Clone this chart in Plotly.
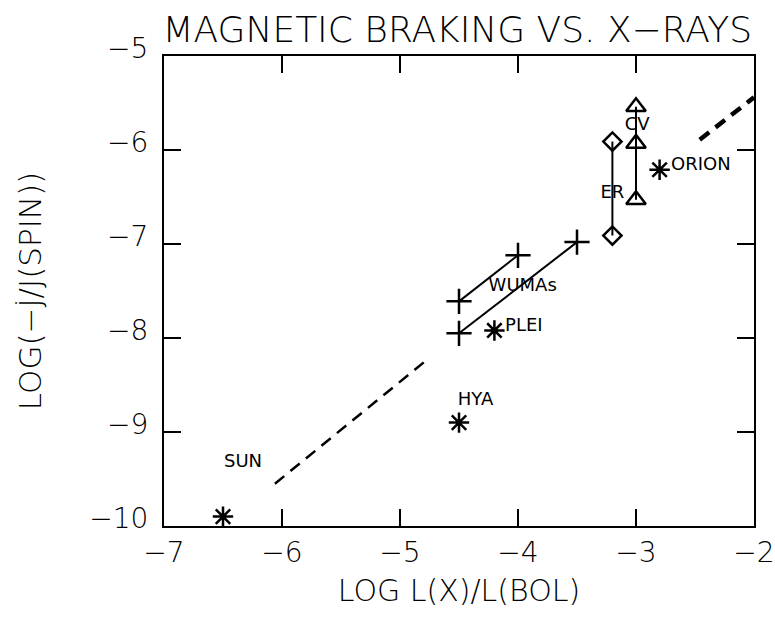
import plotly.graph_objects as go

# ---- data ----
star_names = ["SUN", "HYA", "PLEI", "ORION"]
star_x = [-6.5, -4.5, -4.2, -2.8]
star_y = [-9.9, -8.9, -7.92, -6.21]

wuma1_x = [-4.5, -4.0]
wuma1_y = [-7.61, -7.12]
wuma2_x = [-4.5, -3.5]
wuma2_y = [-7.95, -6.98]

er_x = [-3.2, -3.2]
er_y = [-5.91, -6.91]

cv_x = [-3.0, -3.0, -3.0]
cv_y = [-5.54, -5.93, -6.53]

trend1_x = [-6.06, -4.77]
trend1_y = [-9.55, -8.23]
trend2_x = [-2.46, -2.0]
trend2_y = [-5.89, -5.44]

label_text = ["SUN", "HYA", "PLEI", "WUMAs", "ER", "CV", "ORION"]
label_x = [-6.33, -4.36, -3.95, -3.96, -3.2, -2.99, -2.45]
label_y = [-9.32, -8.66, -7.88, -7.45, -6.46, -5.74, -6.16]

x_ticks = [-7, -6, -5, -4, -3, -2]
y_ticks = [-5, -6, -7, -8, -9, -10]

FONT = "DejaVu Sans"
fig = go.Figure()

dash = "12px,8px"
fig.add_trace(go.Scatter(x=trend1_x, y=trend1_y, mode="lines",
                         line=dict(color="black", width=2.5, dash=dash)))
fig.add_trace(go.Scatter(x=trend2_x, y=trend2_y, mode="lines",
                         line=dict(color="black", width=4.5, dash=dash)))

for xs, ys in [(wuma1_x, wuma1_y), (wuma2_x, wuma2_y)]:
    fig.add_trace(go.Scatter(x=xs, y=ys, mode="lines+markers",
                             line=dict(color="black", width=2),
                             marker=dict(symbol="cross-thin-open", size=18, color="black",
                                         line=dict(color="black", width=2.5))))

fig.add_trace(go.Scatter(x=er_x, y=er_y, mode="lines+markers",
                         line=dict(color="black", width=2),
                         marker=dict(symbol="diamond-open", size=14, color="black",
                                     line=dict(color="black", width=2.5))))
fig.add_trace(go.Scatter(x=cv_x, y=cv_y, mode="lines+markers",
                         line=dict(color="black", width=2),
                         marker=dict(symbol="triangle-up-open", size=17, color="black",
                                     line=dict(color="black", width=2.5))))

fig.add_trace(go.Scatter(x=star_x, y=star_y, mode="markers",
                         marker=dict(symbol="asterisk-open", size=17, color="black",
                                     line=dict(color="black", width=2.5))))

fig.add_trace(go.Scatter(x=label_x, y=label_y, mode="text", text=label_text,
                         textfont=dict(family=FONT, size=18, color="black"),
                         textposition="middle center"))

axis_common = dict(showline=True, linecolor="black", linewidth=2, mirror="ticks",
                   ticks="inside", ticklen=17, tickwidth=2, tickcolor="black",
                   showgrid=False, zeroline=False, automargin=False,
                   tickfont=dict(family=FONT, size=28, color="black", weight=300))

fig.update_xaxes(range=[-7, -2], tickvals=x_ticks, **axis_common,
                 title=dict(text="LOG L(X)/L(BOL)", font=dict(family=FONT, size=30, color="black", weight=300),
                            standoff=12))
fig.update_yaxes(range=[-10, -5], tickvals=y_ticks, **axis_common,
                 ticklabelshift=-8, ticklabelstandoff=8,
                 title=dict(text="LOG(−J\u0307/J(SPIN))\u00a0\u00a0\u00a0",
                            font=dict(family=FONT, size=31, color="black", weight=300),
                            standoff=38))

fig.update_layout(
    width=775, height=617,
    margin=dict(l=164, r=21, t=56, b=91, autoexpand=False),
    paper_bgcolor="white", plot_bgcolor="white",
    showlegend=False,
    title=dict(text="MAGNETIC BRAKING VS. X−RAYS", x=0.59, xanchor="center", y=0.952, yanchor="middle",
               font=dict(family=FONT, size=36, color="black", weight=300)),
)

fig.write_html("out.html")
